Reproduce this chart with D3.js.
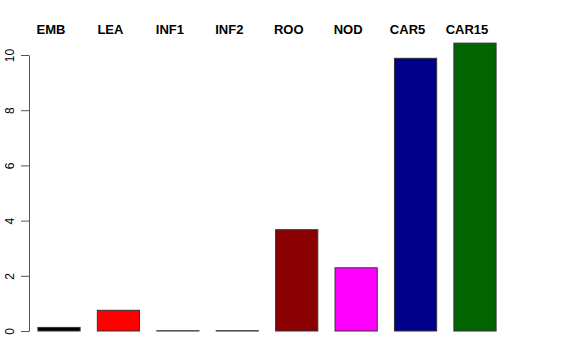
<!DOCTYPE html>
<html>
<head>
<meta charset="utf-8">
<script src="https://cdn.jsdelivr.net/npm/d3@7"></script>
<style>
  body { margin: 0; background: #fff; }
  svg { display: block; font-family: "Liberation Sans", Arial, sans-serif; }
</style>
</head>
<body>
<svg id="chart" width="576" height="360"></svg>
<script>
// values
const tissues = ['EMB', 'LEA', 'INF1', 'INF2', 'ROO', 'NOD', 'CAR5', 'CAR15'];
const values = [0.13, 0.75, 0.01, 0.01, 3.67, 2.29, 9.88, 10.43];
const colors = ['#000000', '#ff0000', '#00cd00', '#0000ff', '#8b0000', '#ff00ff', '#00008b', '#006400'];
const yTicks = [0, 2, 4, 6, 8, 10];

const svg = d3.select('#chart');

const x = d3.scaleBand()
    .domain(tissues)
    .range([29, 505])
    .paddingInner(0.29)
    .paddingOuter(0.15);

const y = d3.scaleLinear()
    .domain([0, 10])
    .range([331, 55]);

// bars
svg.append('g')
    .selectAll('rect')
    .data(tissues)
    .join('rect')
    .attr('x', d => x(d))
    .attr('y', (d, i) => y(values[i]))
    .attr('width', x.bandwidth())
    .attr('height', (d, i) => y(0) - y(values[i]))
    .attr('fill', (d, i) => colors[i])
    .attr('stroke', '#333')
    .attr('stroke-width', 1);

// labels across the top
svg.append('g')
    .selectAll('text')
    .data(tissues)
    .join('text')
    .attr('x', d => x(d) + x.bandwidth() / 2 - 8)
    .attr('y', 34)
    .attr('text-anchor', 'middle')
    .attr('font-size', 13)
    .attr('font-weight', 'bold')
    .text(d => d);

// y axis, R style
const yAxis = svg.append('g')
    .attr('transform', 'translate(29,0)')
    .call(d3.axisLeft(y).tickValues(yTicks).tickSize(8).tickSizeOuter(0).tickPadding(0));

yAxis.select('.domain').attr('stroke', '#555');
yAxis.selectAll('.tick line').attr('stroke', '#555');
yAxis.selectAll('.tick text')
    .attr('font-size', 12)
    .attr('font-family', '"Liberation Sans", Arial, sans-serif')
    .attr('fill', '#000')
    .attr('text-anchor', 'middle')
    .attr('transform', 'translate(-19,0) rotate(-90)')
    .attr('x', 0)
    .attr('dy', '0.35em');
</script>
</body>
</html>
